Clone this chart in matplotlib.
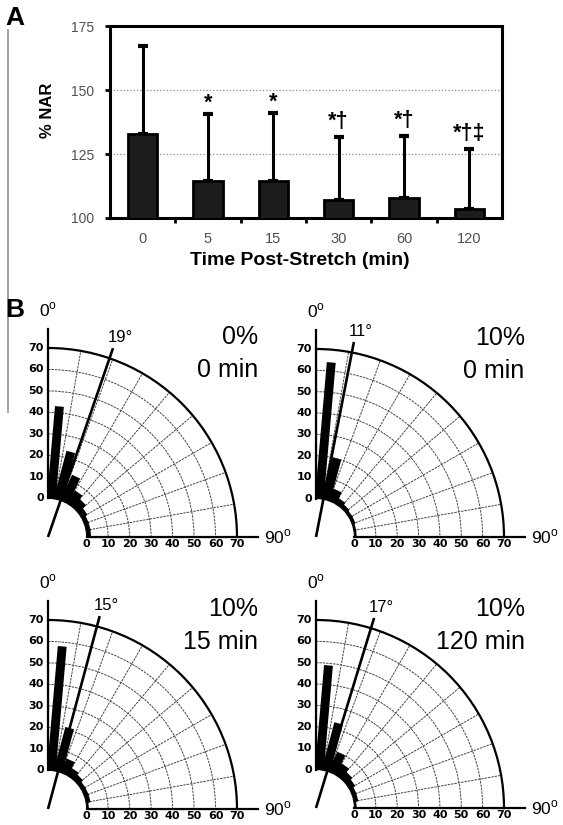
#!/usr/bin/env python3

import numpy as np
import matplotlib
matplotlib.use("Agg")
import matplotlib.pyplot as plt
from matplotlib import font_manager
from matplotlib.lines import Line2D

W, H = 563, 825

## Panel A: % NAR over time after stretch
TIMES    = ["0", "5", "15", "30", "60", "120"]
NAR_MEAN = [133.0, 114.5, 114.5, 107.0, 108.0, 103.4]
NAR_ERR  = [34.0, 26.0, 26.5, 24.8, 24.0, 23.6]
SIG      = ["", "*", "*", "*\u2020", "*\u2020", "*\u2020\u2021"]

## Panel B: orientation histograms (10 deg bins, % of cells)
BIN_CENTERS   = [5, 15, 25, 35, 45, 55, 65, 75, 85]
HIST_0_0MIN   = [43, 23, 13, 7, 5, 3, 2, 2, 2]
HIST_10_0MIN  = [64, 20, 6, 3, 2, 1.5, 1.5, 1, 1]
HIST_10_15MIN = [58, 21, 7, 4, 3, 2, 2, 2, 1]
HIST_10_120MIN = [49, 23, 10, 6, 4, 3, 2, 2, 1]
MEAN_ANGLES   = [19, 11, 15, 17]
STRAINS       = ["0%", "10%", "10%", "10%"]
POST_TIMES    = ["0 min", "0 min", "15 min", "120 min"]

R_ORIGIN = -18

names = {f.name for f in font_manager.fontManager.ttflist}
NARROW = "Liberation Sans Narrow" if "Liberation Sans Narrow" in names else "DejaVu Sans"

plt.rcParams["font.family"] = "Liberation Sans"
plt.rcParams["mathtext.fontset"] = "custom"
plt.rcParams["mathtext.rm"] = "Liberation Sans"


def plotBars(fig):
    ax = fig.add_axes([110 / W, 1 - 218 / H, 392 / W, 192 / H])
    x = np.arange(len(TIMES))
    ax.bar(x, NAR_MEAN, width=0.45, color="#1c1c1c", edgecolor="black",
           linewidth=2, zorder=3)
    ax.errorbar(x, NAR_MEAN, yerr=[np.zeros(len(x)), NAR_ERR], fmt="none",
                ecolor="black", elinewidth=2.2, capsize=3.8, capthick=3, zorder=2)
    for xi, m, e, s in zip(x, NAR_MEAN, NAR_ERR, SIG):
        if s:
            ## daggers hang below the baseline, so lift those labels a bit more
            lift = 7 if len(s) > 1 else 4
            ax.annotate(s, xy=(xi, m + e), xytext=(0, lift), textcoords="offset points",
                        ha="center", va="baseline", fontsize=15.5, fontweight="bold")

    ax.set_xlim(-0.5, 5.5)
    ax.set_ylim(100, 175)
    ax.set_yticks([100, 125, 150, 175])
    ax.set_xticks(x, TIMES)
    ax.set_xticks(np.arange(0.5, 5, 1), minor=True)
    ax.tick_params(axis="y", direction="out", length=3.5, width=2, pad=8,
                   labelsize=10, labelcolor="#505050")
    ax.tick_params(axis="x", which="major", length=0, pad=10,
                   labelsize=10.5, labelcolor="#505050")
    ax.tick_params(axis="x", which="minor", direction="out", length=3.5, width=2)
    for sp in ax.spines.values():
        sp.set_linewidth(2.2)
    ax.set_axisbelow(True)
    ax.yaxis.grid(True, color="#8a8a8a", linestyle=":", linewidth=0.9)

    ax.text(0.485, -0.22, "Time Post-Stretch (min)", transform=ax.transAxes,
            ha="center", va="center", fontsize=14, fontweight="bold")
    ax.text(-0.16, 0.56, "% NAR", transform=ax.transAxes, rotation=90,
            ha="center", va="center", fontsize=12, fontweight="bold")


def plotRose(fig, center, radius, values, mean_angle, strain, post_time):
    cx, cy = center
    ax = fig.add_axes([cx / W, 1 - cy / H, radius / W, radius / H], projection="polar")

    ## histogram bars: thick radial strokes from r=0
    ax.vlines(np.deg2rad(BIN_CENTERS), 0, values, colors="black",
              linewidth=6.4, capstyle="butt", clip_on=False, zorder=3)

    ## axis lines extending past the outer arc
    ax.plot([0, 0], [0, 79], color="black", lw=1.6, clip_on=False)
    ax.plot([np.pi / 2, np.pi / 2], [0, 80], color="black", lw=1.6, clip_on=False)

    ## mean orientation
    th = np.deg2rad(mean_angle)
    ax.plot([th, th], [R_ORIGIN, 75], color="black", lw=1.9, clip_on=False,
            solid_capstyle="butt", zorder=4)
    ax.annotate(f"{mean_angle}\u00b0", xy=(th, 75), xytext=(-4, 2),
                textcoords="offset points", ha="left", va="bottom", fontsize=12,
                annotation_clip=False)

    for v in range(0, 80, 10):
        ax.annotate(str(v), xy=(0, v), xytext=(-3, 0), textcoords="offset points",
                    ha="right", va="center", fontsize=8, fontweight="bold",
                    family=NARROW, annotation_clip=False)
        ax.annotate(str(v), xy=(np.pi / 2, v), xytext=(0, -1.5), textcoords="offset points",
                    ha="center", va="top", fontsize=8, fontweight="bold",
                    family=NARROW, annotation_clip=False)
    ax.annotate("0$^{\\mathrm{o}}$", xy=(0, 79), xytext=(0, 7), textcoords="offset points",
                ha="center", va="bottom", fontsize=12.5, annotation_clip=False)
    ax.annotate("90$^{\\mathrm{o}}$", xy=(np.pi / 2, 80), xytext=(4, 0),
                textcoords="offset points", ha="left", va="center", fontsize=12.5,
                annotation_clip=False)

    ax.text(1.11, 1.058, strain, transform=ax.transAxes, ha="right", va="center", fontsize=18)
    ax.text(1.11, 0.884, post_time, transform=ax.transAxes, ha="right", va="center", fontsize=18)

    ax.set_xticks(np.deg2rad(np.arange(10, 90, 10)))
    ax.set_xticklabels([])
    ax.set_yticks(range(10, 70, 10))
    ax.set_yticklabels([])
    ax.tick_params(length=0)
    ax.grid(True, color="#444444", linewidth=0.7, linestyle=(0, (2.5, 1)))
    ax.spines["polar"].set_linewidth(1.6)
    for k in ("start", "end", "inner"):
        ax.spines[k].set_visible(False)

    ax.set_theta_zero_location("N")
    ax.set_theta_direction(-1)
    ax.set_thetamin(0)
    ax.set_thetamax(90)
    ax.set_ylim(0, 70)
    ax.set_rorigin(R_ORIGIN)


def main():
    fig = plt.figure(figsize=(W / 100, H / 100), dpi=100)
    fig.add_artist(Line2D([8 / W, 8 / W], [1 - 30 / H, 1 - 412 / H],
                          color="#8c8c8c", lw=1.2))

    plotBars(fig)

    hists = [HIST_0_0MIN, HIST_10_0MIN, HIST_10_15MIN, HIST_10_120MIN]
    centers = [(48, 537), (316, 537), (48, 809), (316, 808)]
    radii = [189, 188, 189, 188]
    for i in range(4):
        plotRose(fig, centers[i], radii[i], hists[i], MEAN_ANGLES[i],
                 STRAINS[i], POST_TIMES[i])

    fig.text(5 / W, 1 - 6 / H, "A", ha="left", va="top", fontsize=19, fontweight="bold")
    fig.text(5 / W, 1 - 298 / H, "B", ha="left", va="top", fontsize=19, fontweight="bold")

    fig.savefig("out.png", dpi=100)


main()
